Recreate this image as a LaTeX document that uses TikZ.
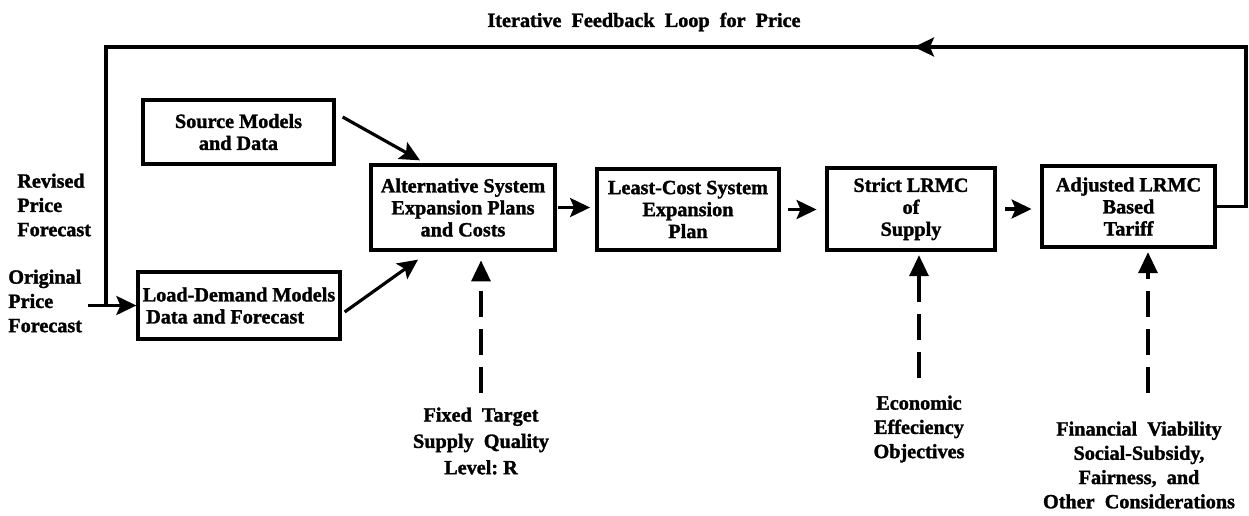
\documentclass[tikz,border=0pt]{standalone}
\usepackage{fontspec}
\setmainfont{Liberation Serif}[BoldFeatures={FakeBold=1.5}]
\usetikzlibrary{arrows.meta}
\begin{document}
\begin{tikzpicture}[x=0.02cm,y=-0.02cm,
  every node/.style={font=\fontsize{11.5}{12.5}\selectfont\bfseries},
  box/.style={draw, line width=1.9pt, inner sep=2pt, align=center},
  lbl/.style={align=center, inner sep=0pt, font=\fontsize{11.5}{13.8}\selectfont\bfseries},
  conn/.style={line width=1.8pt},
  arr/.style={line width=1.8pt, -{Stealth[length=0.4cm, width=0.38cm, inset=0.08cm]}},
  darr/.style={line width=1.9pt, dash pattern=on 0.52cm off 0.24cm, -{Triangle[length=0.42cm, width=0.38cm]}}
]
\useasboundingbox (0,0) rectangle (1249,515);

% boxes
\node[box, minimum width=3.82cm, minimum height=1.28cm] (src) at (238.5,132) {Source Models\\and Data};
\node[box, minimum width=4.04cm, minimum height=1.34cm, align=left] (load) at (239,305.5) {Load-Demand Models\\\hspace{2pt}Data and Forecast};
\node[box, minimum width=3.68cm, minimum height=1.70cm] (alt) at (463,207.5) {Alternative System\\Expansion Plans\\and Costs};
\node[box, minimum width=3.64cm, minimum height=1.62cm] (least) at (688,209.5) {Least-Cost System\\Expansion\\Plan};
\node[box, minimum width=3.36cm, minimum height=1.64cm] (strict) at (911,209) {Strict LRMC\\of\\Supply};
\node[box, minimum width=3.46cm, minimum height=1.62cm] (adj) at (1128.5,206.5) {Adjusted LRMC\\Based\\Tariff};

% labels
\node[lbl] (title) at (644,22) {Iterative\ \ Feedback\ \ Loop\ \ for\ \ Price};
\node[lbl, anchor=west, align=left] (rev) at (17,205) {Revised\\Price\\Forecast};
\node[lbl, anchor=west, align=left] (orig) at (8,301) {Original\\Price\\Forecast};
\node[lbl, font=\fontsize{11.5}{15}\selectfont\bfseries] (fix) at (481,441) {Fixed\ \ Target\\Supply\ \ Quality\\Level:\ R};
\node[lbl] (econ) at (919,429) {Economic\\Effeciency\\Objectives};
\node[lbl] (fin) at (1139,465) {Financial\ \ Viability\\Social-Subsidy,\\Fairness,\ \ and\\Other\ \ Considerations};

% feedback loop
\coordinate (c1) at (1246,47);
\coordinate (cm) at (914,47);
\coordinate (c2) at (106,47);
\coordinate (c3) at (106,305);
\draw[conn, line join=miter] (adj.east) -| (c1) -- (cm);
\draw[arr] (c1) -- (cm);
\draw[conn, line join=miter] (cm) -- (c2) -- (c3);

% input arrows
\draw[arr, shorten <=3pt] (orig.east |- load.west) -- (load.west);
\draw[arr] ([shift={(7,-15)}]src.east) -- ([shift={(-43,-3)}]alt.north);
\draw[arr] ([shift={(3,6.5)}]load.east) -- ([shift={(-45,8)}]alt.south);

% chain arrows
\draw[arr, shorten <=1pt, shorten >=3pt] (alt.east) -- (alt.east -| least.west);
\draw[arr, shorten <=4pt, shorten >=5pt] (least.east) -- (least.east -| strict.west);
\draw[arr, shorten <=5pt, shorten >=5pt] (strict.east) -- (strict.east -| adj.west);

% dashed inputs
\draw[darr, shorten <=8pt, shorten >=5pt] (fix.north) -- (fix.north |- alt.south);
\draw[darr, shorten <=10pt, shorten >=2pt] (econ.north) -- (econ.north |- strict.south);
\draw[darr, shorten <=16pt, shorten >=2pt] ([xshift=0.18cm]fin.north) -- ([xshift=0.18cm]fin.north |- adj.south);
\end{tikzpicture}
\end{document}
